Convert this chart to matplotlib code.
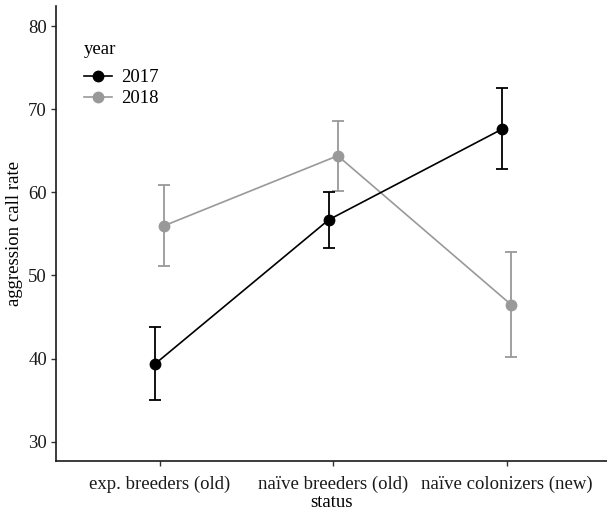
import matplotlib
matplotlib.use("Agg")
import matplotlib.pyplot as plt
from matplotlib.lines import Line2D
import numpy as np

plt.rcParams['font.family'] = ['Liberation Serif', 'DejaVu Serif']

status = ["exp. breeders (old)", "naïve breeders (old)", "naïve colonizers (new)"]
years = ["2017", "2018"]

mean_2017 = [39.4, 56.7, 67.6]
lower_2017 = [35.0, 53.3, 62.8]
upper_2017 = [43.8, 60.1, 72.5]

mean_2018 = [56.0, 64.4, 46.5]
lower_2018 = [51.1, 60.2, 40.2]
upper_2018 = [60.9, 68.6, 52.8]

colors = {"2017": "#000000", "2018": "#999999"}
dodge = {"2017": -0.026, "2018": 0.026}
FS = 13.5

fig = plt.figure(figsize=(6.07, 5.13), dpi=100)
ax = fig.add_axes([0.0923, 0.1014, 0.9077, 0.8866])

x = np.arange(1, len(status) + 1)
series = {
    "2017": (mean_2017, lower_2017, upper_2017),
    "2018": (mean_2018, lower_2018, upper_2018),
}
for yr in ["2018", "2017"]:
    m, lo, hi = (np.array(v) for v in series[yr])
    xs = x + dodge[yr]
    c = colors[yr]
    ax.errorbar(xs, m, yerr=[m - lo, hi - m], fmt='none', ecolor=c,
                elinewidth=1.3, capsize=4.5, capthick=1.3, zorder=2)
    ax.plot(xs, m, color=c, lw=1.2, zorder=3)
    ax.plot(xs, m, 'o', color=c, ms=7.5, zorder=4)

ax.set_xlim(0.4, 3.58)
ax.set_ylim(27.68, 82.4)
ax.set_xticks(x)
ax.set_xticklabels(status, fontsize=FS)
ax.set_yticks([30, 40, 50, 60, 70, 80])
ax.tick_params(axis='both', labelsize=FS, color='#333333', length=3.5, width=1,
               labelcolor='#1a1a1a')
ax.tick_params(axis='x', pad=7)
ax.tick_params(axis='y', pad=3)
ax.set_xlabel("status", fontsize=FS, labelpad=1)
ax.set_ylabel("aggression call rate", fontsize=FS, labelpad=4)

for side in ['top', 'right']:
    ax.spines[side].set_visible(False)
for side in ['left', 'bottom']:
    ax.spines[side].set_linewidth(1.2)
    ax.spines[side].set_color('#1a1a1a')

leg_handles = [Line2D([0], [0], color=colors[y], marker='o', ms=7.5, lw=1.2) for y in years]
leg = ax.legend(leg_handles, years, title="year", loc='upper left',
                bbox_to_anchor=(0.02, 0.96), frameon=False, fontsize=FS,
                title_fontsize=FS, handlelength=1.5, handletextpad=0.5,
                labelspacing=0.2)
leg._legend_box.align = "left"
leg._legend_box.sep = 8

fig.savefig("out.png", dpi=100)
